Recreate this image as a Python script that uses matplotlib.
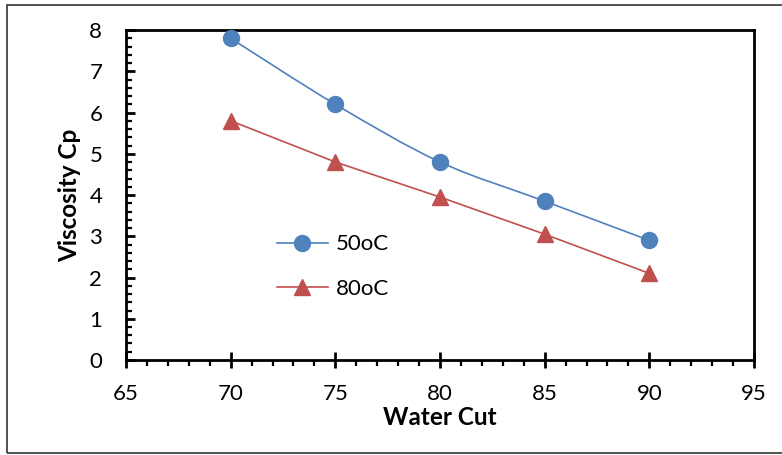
"""Viscosity vs water cut at two temperatures."""

import matplotlib.pyplot as plt
from matplotlib.lines import Line2D
from matplotlib.patches import PathPatch, Rectangle
from matplotlib.path import Path
from matplotlib.ticker import MultipleLocator

water_cut = [70, 75, 80, 85, 90]
visc_50c = [7.8, 6.2, 4.8, 3.85, 2.9]
visc_80c = [5.8, 4.8, 3.95, 3.05, 2.1]
series_labels = ["50oC", "80oC"]

BLUE = "#4F81BD"
RED = "#C0504D"

plt.rcParams["font.family"] = ["Lato", "DejaVu Sans"]


def smooth_path(xs, ys):
    # Excel-style smoothed line: Catmull-Rom segments as cubic Beziers
    verts = [(xs[0], ys[0])]
    codes = [Path.MOVETO]
    n = len(xs)
    for i in range(n - 1):
        x0, y0 = (xs[i - 1], ys[i - 1]) if i > 0 else (xs[i], ys[i])
        x1, y1 = xs[i], ys[i]
        x2, y2 = xs[i + 1], ys[i + 1]
        x3, y3 = (xs[i + 2], ys[i + 2]) if i + 2 < n else (x2, y2)
        verts += [
            (x1 + (x2 - x0) / 6, y1 + (y2 - y0) / 6),
            (x2 - (x3 - x1) / 6, y2 - (y3 - y1) / 6),
            (x2, y2),
        ]
        codes += [Path.CURVE4] * 3
    return Path(verts, codes)


fig = plt.figure(figsize=(7.82, 4.55), dpi=100)
ax = fig.add_axes([0.1611, 0.2088, 0.8031, 0.7252])

ax.add_patch(PathPatch(smooth_path(water_cut, visc_50c), fill=False,
                       edgecolor=BLUE, linewidth=1.2, zorder=2))
ax.plot(water_cut, visc_50c, linestyle="none", marker="o", markersize=11.5,
        color=BLUE, zorder=3)
ax.plot(water_cut, visc_80c, linestyle="-", linewidth=1.2, marker="^",
        markersize=11.5, color=RED, zorder=3)

ax.set_xlim(65, 95)
ax.set_ylim(0, 8)
ax.xaxis.set_major_locator(MultipleLocator(5))
ax.xaxis.set_minor_locator(MultipleLocator(1))
ax.yaxis.set_major_locator(MultipleLocator(1))
ax.yaxis.set_minor_locator(MultipleLocator(0.2))

for spine in ax.spines.values():
    spine.set_linewidth(2.0)

ax.tick_params(axis="x", which="major", direction="inout", length=11, width=2.0,
               labelsize=16, pad=12)
ax.tick_params(axis="x", which="minor", direction="out", length=4, width=1.6)
ax.tick_params(axis="y", which="major", direction="in", length=6.5, width=2.0,
               labelsize=16, pad=17)
ax.tick_params(axis="y", which="minor", direction="in", length=4.5, width=1.6)

ax.set_xlabel("Water Cut", fontsize=17.5, fontweight="bold", labelpad=1)
ax.set_ylabel("Viscosity Cp", fontsize=17.5, fontweight="bold", labelpad=6)

handles = [
    Line2D([], [], color=BLUE, linewidth=1.2, marker="o", markersize=11.5),
    Line2D([], [], color=RED, linewidth=1.2, marker="^", markersize=11.5),
]
fig.legend(handles, series_labels, loc="center left", bbox_to_anchor=(0.354, 0.414),
           frameon=False, fontsize=16, handlelength=2.3, labelspacing=1.1,
           borderpad=0, borderaxespad=0, handletextpad=0.35)

fig.add_artist(Rectangle((7 / 782, 2 / 455), 1.0, 448 / 455, transform=fig.transFigure,
                         fill=False, edgecolor="#333333", linewidth=1.2))

fig.savefig("out.png", dpi=100)
plt.close(fig)
